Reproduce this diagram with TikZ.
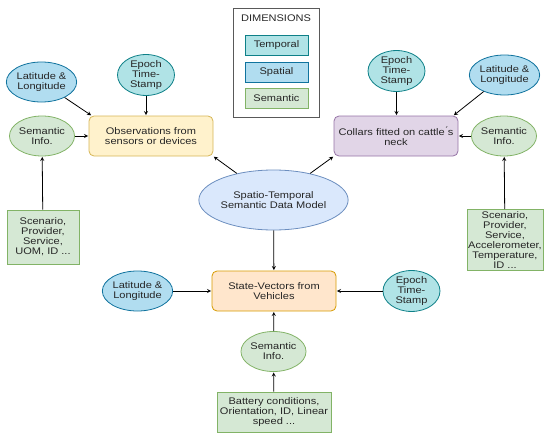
\documentclass[tikz,border=0pt]{standalone}
\usepackage{fontspec}
\setmainfont{Liberation Sans}[FakeStretch=1.15]
\usepackage{tikz}
\usetikzlibrary{shapes.geometric}
\tikzset{>=stealth}

\definecolor{tempfill}{HTML}{B0E3E6}
\definecolor{tempdraw}{HTML}{0E8088}
\definecolor{spatfill}{HTML}{B1DDF0}
\definecolor{spatdraw}{HTML}{10739E}
\definecolor{semfill}{HTML}{D5E8D4}
\definecolor{semdraw}{HTML}{82B366}
\definecolor{modfill}{HTML}{DAE8FC}
\definecolor{moddraw}{HTML}{6C8EBF}
\definecolor{obsfill}{HTML}{FFF2CC}
\definecolor{obsdraw}{HTML}{D6B656}
\definecolor{colfill}{HTML}{E1D5E7}
\definecolor{coldraw}{HTML}{9673A6}
\definecolor{svfill}{HTML}{FFE6CC}
\definecolor{svdraw}{HTML}{D79B00}

\tikzset{
  dimnode/.style={ellipse, minimum width=57pt, minimum height=40pt, inner sep=0pt, align=center, line width=0.8pt},
  temp/.style={dimnode, fill=tempfill, draw=tempdraw},
  spat/.style={dimnode, fill=spatfill, draw=spatdraw},
  sem/.style={dimnode, fill=semfill, draw=semdraw},
  source/.style={rectangle, rounded corners=5pt, minimum width=124pt, minimum height=40pt, align=center, line width=0.8pt},
  attrbox/.style={rectangle, fill=semfill, draw=semdraw, align=center, inner sep=0pt, line width=0.8pt},
  keybox/.style={rectangle, minimum width=63pt, minimum height=20pt, inner sep=0pt, line width=0.8pt},
  link/.style={->, line width=0.8pt, shorten >=0.5pt}
}

\begin{document}
\begin{tikzpicture}[x=1pt, y=-1pt, font=\fontsize{9.6}{10}\selectfont, text=black!85]
    \useasboundingbox (0,0) rectangle (550,439);

    % legend
    \draw[line width=1pt, black!65] (233,8) rectangle (319,117);
    \node at (276,18) (keytitle) {DIMENSIONS};
    \node[keybox, fill=tempfill, draw=tempdraw] at (276.5,45) (keytemp) {Temporal};
    \node[keybox, fill=spatfill, draw=spatdraw] at (276.5,72) (keyspat) {Spatial};
    \node[keybox, fill=semfill, draw=semdraw] at (276.5,98) (keysem) {Semantic};

    % central model
    \node[ellipse, fill=modfill, draw=moddraw, line width=0.8pt, minimum width=128pt, minimum height=60pt, inner sep=0pt, align=center] at (273.5,200) (model) {Spatio-Temporal\\Semantic Data Model};

    % sensors
    \node[source, fill=obsfill, draw=obsdraw] at (151,136) (obs) {Observations from\\sensors or devices};
    \node[spat] at (41.5,82) (latobs) {Latitude \&\\Longitude};
    \node[temp] at (146,75) (epobs) {Epoch\\Time-\\Stamp};
    \node[sem] at (42,136) (semobs) {Semantic\\Info.};
    \node[attrbox, minimum width=72pt, minimum height=54pt] at (43,237) (attobs) {Scenario,\\Provider,\\Service,\\UOM, ID ...};

    % cattle
    \node[source, fill=colfill, draw=coldraw] at (396,136) (col) {Collars fitted on cattle\'{}s\\neck};
    \node[temp] at (396.5,71) (epcol) {Epoch\\Time-\\Stamp};
    \node[spat] at (504.5,75) (latcol) {Latitude \&\\Longitude};
    \node[sem] at (504,136) (semcol) {Semantic\\Info.};
    \node[attrbox, minimum width=76pt, minimum height=61pt] at (505,240) (attcol) {Scenario,\\Provider,\\Service,\\Accelerometer,\\Temperature,\\ID ...};

    % vehicles
    \node[source, fill=svfill, draw=svdraw] at (274,291) (sv) {State-Vectors from\\Vehicles};
    \node[spat] at (137.5,291) (latsv) {Latitude \&\\Longitude};
    \node[temp] at (411.5,291) (epsv) {Epoch\\Time-\\Stamp};
    \node[sem] at (273.5,351.5) (semsv) {Semantic\\Info.};
    \node[attrbox, minimum width=114pt, minimum height=40pt] at (274,412) (attsv) {Battery conditions,\\Orientation, ID, Linear\\speed ...};

    % connectors
    \draw[link] (latobs) -- ([xshift=3pt]obs.north west);
    \draw[link] (epobs) -- (epobs |- obs.north);
    \draw[link] (semobs) -- (obs);
    \draw[link] (attobs) -- (semobs);
    \draw[link] (model) -- (obs.south east);

    \draw[link] (model) -- (col.south west);
    \draw[link] (epcol) -- (epcol |- col.north);
    \draw[link] (latcol) -- ([xshift=-5pt]col.north east);
    \draw[link] (semcol) -- (col);
    \draw[link] (attcol) -- (semcol);

    \draw[link] (model) -- (sv);
    \draw[link] (latsv) -- (sv);
    \draw[link] (epsv) -- (sv);
    \draw[link] (semsv) -- (sv);
    \draw[link] (attsv) -- (semsv);
\end{tikzpicture}
\end{document}
